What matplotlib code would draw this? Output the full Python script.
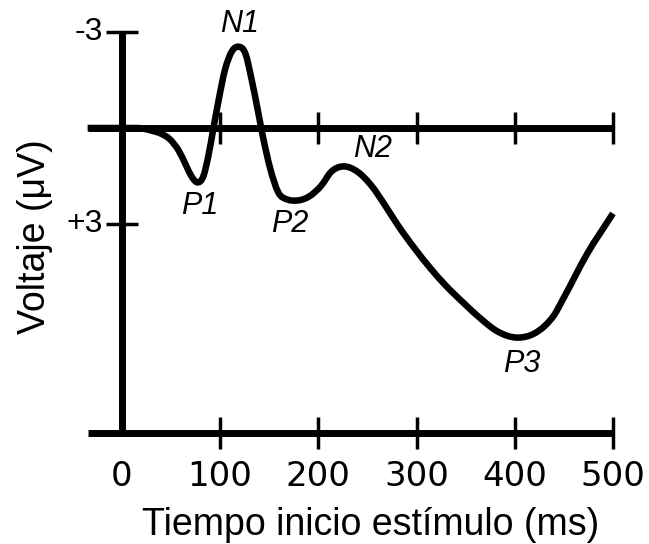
import numpy as np
import matplotlib
matplotlib.use('Agg')
from matplotlib import pyplot as plt
from matplotlib.path import Path
from matplotlib.patches import PathPatch

# ERP waveform (ms, microvolts; positive is drawn downwards)
tiempo = [-35, 0, 15, 30, 40, 48, 58, 65, 71, 77, 83, 88, 93, 98,
          105, 112, 118, 126, 132, 139, 144, 151, 159, 169, 176, 190,
          203, 213, 226, 240, 254, 268, 281, 298, 314, 329, 349, 365, 382,
          403, 420, 430, 440, 450, 473, 500]
voltaje = [0, 0, 0, 0.08, 0.18, 0.33, 0.72, 1.15, 1.52, 1.7,
           1.5, 0.87, 0.03, -0.8, -1.83, -2.4, -2.54, -2.3, -1.52,
           -0.45, 0.34, 1.27, 2.0, 2.24, 2.27, 2.15, 1.8, 1.37, 1.2, 1.37, 1.8,
           2.42, 3.04, 3.76, 4.38, 4.9, 5.5, 5.95, 6.35, 6.55, 6.42,
           6.2, 5.85, 5.3, 3.97, 2.67]

x_ticks = [0, 100, 200, 300, 400, 500]
y_ticks = [-3, 3]
y_tick_labels = ['-3', '+3']
picos = ['P1', 'N1', 'P2', 'N2', 'P3']
picos_pos = [(79.5, 2.44), (120, -3.25), (171, 3.0), (255, 0.66), (407, 7.37)]

y_base = 9.53     # bottom horizontal line
x_ini = -35


def curva_suave(x, y):
    # smooth bezier path through the read points (no extra data points)
    x = np.asarray(x, float)
    y = np.asarray(y, float)
    h = np.diff(x)
    d = np.diff(y) / h
    m = np.zeros_like(y)
    for i in range(1, len(y) - 1):
        if d[i - 1] * d[i] > 0:
            m[i] = (d[i - 1] * h[i] + d[i] * h[i - 1]) / (h[i - 1] + h[i])
    m[-1] = d[-1]
    verts = [(x[0], y[0])]
    codes = [Path.MOVETO]
    for i in range(len(x) - 1):
        verts += [(x[i] + h[i] / 3, y[i] + m[i] * h[i] / 3),
                  (x[i + 1] - h[i] / 3, y[i + 1] - m[i + 1] * h[i] / 3),
                  (x[i + 1], y[i + 1])]
        codes += [Path.CURVE4] * 3
    return Path(verts, codes)


fig = plt.figure(figsize=(6.49, 5.44), dpi=100)
ax = fig.add_axes([0, 0, 1, 1])
ax.set_xlim(-124.2, 536.7)
ax.set_ylim(13.0, -4.0)
ax.axis('off')

lw_ax = 5
lw_tick = 2.5
tl = 16 / 32.0    # half tick length in y units
tlx = 16 / 0.982  # half tick length in x units

# axes lines
ax.plot([0, 0], [-3, y_base], color='k', lw=lw_ax, solid_capstyle='butt')
ax.plot([x_ini, 500], [0, 0], color='k', lw=lw_ax, solid_capstyle='butt')
ax.plot([x_ini, 500], [y_base, y_base], color='k', lw=lw_ax, solid_capstyle='butt')

# ticks
for t in x_ticks[1:]:
    ax.plot([t, t], [-tl, tl], color='k', lw=lw_tick, solid_capstyle='butt')
    ax.plot([t, t], [y_base - tl, y_base + tl], color='k', lw=lw_tick,
            solid_capstyle='butt')
for t in y_ticks:
    ax.plot([-tlx, tlx], [t, t], color='k', lw=lw_tick, solid_capstyle='butt')

# waveform
ax.add_patch(PathPatch(curva_suave(tiempo, voltaje), fill=False, edgecolor='k',
                       lw=4.7, capstyle='butt', joinstyle='round'))

# labels
for t in x_ticks:
    ax.text(t, 10.88, str(t), ha='center', va='center', fontsize=24.5,
            family='DejaVu Sans')
for t, lab in zip(y_ticks, y_tick_labels):
    ax.text(-19.5, t, lab, ha='right', va='center', fontsize=23,
            family='Liberation Sans')
for lab, (px, py) in zip(picos, picos_pos):
    ax.text(px, py, lab, ha='center', va='center', fontsize=22,
            family='Liberation Sans', style='italic')

ax.text(253, 12.72, 'Tiempo inicio estímulo (ms)', ha='center', va='baseline',
        fontsize=27, family='Liberation Sans')
ax.text(-88.6, 3.4, 'Voltaje (μV)', ha='center', va='center', rotation=90,
        fontsize=27, family='Liberation Sans')

plt.savefig('out.png', dpi=100)
